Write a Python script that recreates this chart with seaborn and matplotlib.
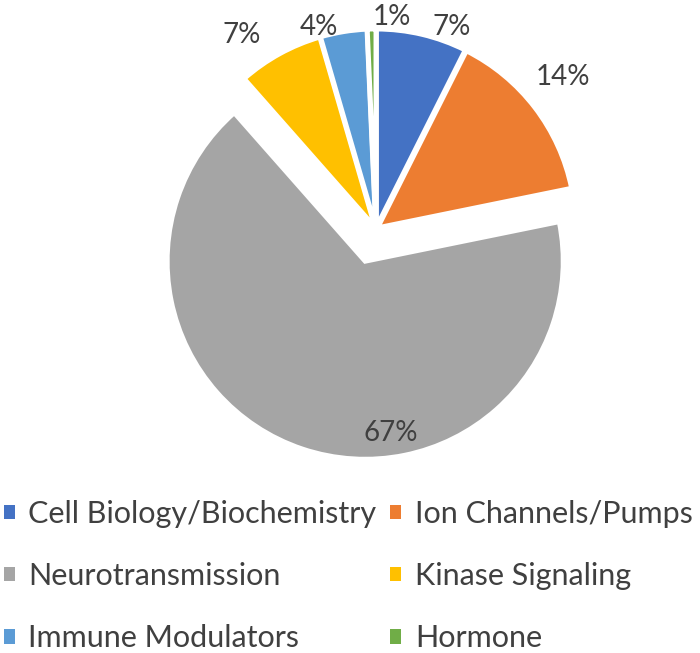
import matplotlib
matplotlib.use("Agg")
import matplotlib.pyplot as plt
import seaborn as sns
from matplotlib.patches import Patch

sns.set_theme(style="white")
plt.rcParams['font.family'] = ['Lato', 'DejaVu Sans']

categories = ["Cell Biology/Biochemistry", "Ion Channels/Pumps", "Neurotransmission",
              "Kinase Signaling", "Immune Modulators", "Hormone"]
values = [7.4, 14.4, 66.7, 7.0, 3.8, 0.7]
pct_labels = ["7%", "14%", "67%", "7%", "4%", "1%"]
colors = ["#4472C4", "#ED7D31", "#A5A5A5", "#FFC000", "#5B9BD5", "#70AD47"]

W, H = 700, 653
fig = plt.figure(figsize=(W / 100, H / 100), dpi=100)
ax = fig.add_axes([0, 0, 1, 1])

R = 198
cx, cy = 376, H - 229
explode = [2, 2, 34, 2, 2, 2]
wedges, _ = ax.pie(values, colors=colors, startangle=90, counterclock=False,
                   radius=R, center=(cx, cy), explode=explode, frame=True,
                   wedgeprops=dict(edgecolor="white", linewidth=3.5))
ax.set_xlim(0, W)
ax.set_ylim(0, H)
ax.axis("off")

# label positions (pixel coords, from top)
label_pos = [(452, 27), (563, 77), (391, 433), (242, 35), (319, 27), (392, 17)]
for txt, (x, y) in zip(pct_labels, label_pos):
    ax.text(x, H - y, txt, ha="center", va="center", fontsize=20, color="#404040")

# legend: fill column-wise so that rows read Cell/Ion, Neuro/Kinase, Immune/Hormone
order = [0, 2, 4, 1, 3, 5]
handles = [Patch(facecolor=colors[i], edgecolor="none") for i in order]
labels = [categories[i] for i in order]
leg = fig.legend(handles, labels, loc="upper left", bbox_to_anchor=(4 / W, 1 - 500 / H),
                 ncol=2, frameon=False, fontsize=22, labelcolor="#404040",
                 handlelength=0.35, handleheight=0.35, handletextpad=0.45,
                 columnspacing=0.45, labelspacing=1.12, borderaxespad=0.0, borderpad=0.0)

fig.savefig("out.png", dpi=100)
